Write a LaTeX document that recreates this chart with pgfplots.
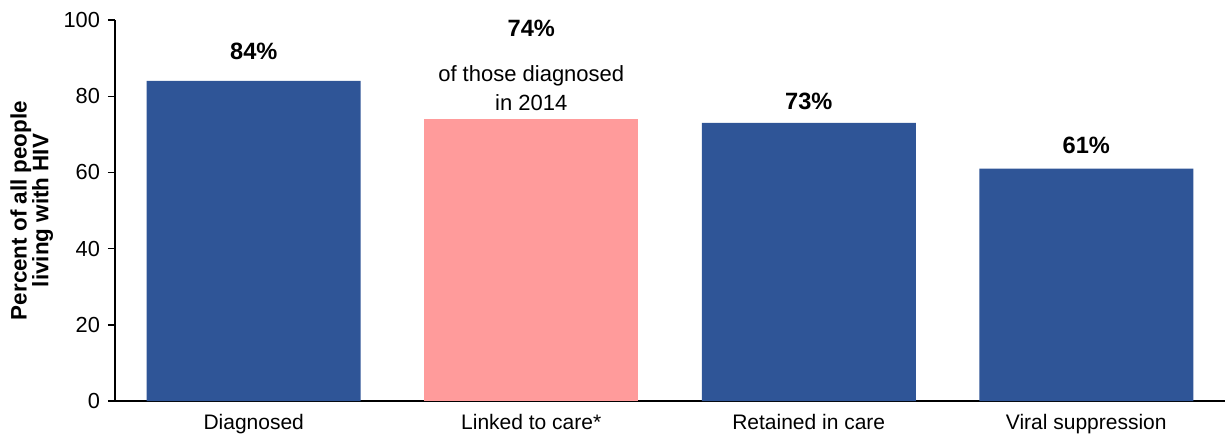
\documentclass[border=0pt]{standalone}
\usepackage{pgfplots}
\pgfplotsset{compat=1.18}
\usepackage{fontspec}
\setmainfont{Liberation Sans}

\definecolor{cascadeblue}{HTML}{2F5597}
\definecolor{cascadepink}{HTML}{FF9B9B}

% stage, percent, gap between bar top and label baseline (pt)
\pgfplotstableread{
x  y   off
0  84  10.5
2  73  6.7
3  61  7.7
}\bluestages

\begin{document}
\begin{tikzpicture}
\begin{axis}[
  at={(0,0)}, anchor=south west,
  scale only axis,
  width=555pt, height=190.5pt,
  xmin=-0.5, xmax=3.5,
  ymin=0, ymax=100,
  ytick={0,20,40,60,80,100},
  xtick={0,1,2,3},
  xticklabels={Diagnosed, Linked to care*, Retained in care, Viral suppression},
  axis lines*=left,
  axis line style={black, line width=0.7pt, -},
  tick align=outside,
  major tick length=3.5pt,
  ytick style={black, line width=0.7pt},
  xtick style={draw=none},
  yticklabel style={font=\fontsize{10.9}{12}\selectfont, xshift=-0.5pt},
  xticklabel style={font=\fontsize{10.5}{12}\selectfont, yshift=0.5pt},
  /pgf/number format/assume math mode=true,
  ylabel={Percent of all people\\[-0.5pt]living with HIV},
  ylabel style={font=\bfseries\fontsize{11.2}{10}\selectfont, align=center,
    inner sep=0pt, at={(axis description cs:-0.0946,0.5)}, anchor=north},
  ybar, bar width=107pt, bar shift=0pt,
  enlargelimits=false,
  clip=false,
]
% Blue stages of the care continuum
\addplot[draw=none, fill=cascadeblue,
  visualization depends on={\thisrow{off} \as \labeloff},
  nodes near coords={\textbf{\pgfmathprintnumber{\pgfplotspointmeta}\%}},
  every node near coord/.append style={font=\fontsize{11.8}{13}\selectfont,
    anchor=base, inner sep=0pt, yshift=\labeloff pt, black}]
  table[x=x, y=y] {\bluestages};
% Linkage to care, measured among those diagnosed in 2014
\addplot[draw=none, fill=cascadepink,
  nodes near coords={{\fontsize{11.8}{14.2}\selectfont\textbf{74\%}}\\[8.6pt]of those diagnosed\\in 2014},
  every node near coord/.append style={font=\fontsize{11}{14.2}\selectfont, align=center,
    anchor=south, inner sep=0pt, yshift=4.2pt, black}]
  coordinates {(1,74)};
\end{axis}
\pgfresetboundingbox
\useasboundingbox (-57.5pt,-17.5pt) rectangle (558.5pt,200.5pt);
\end{tikzpicture}
\end{document}
